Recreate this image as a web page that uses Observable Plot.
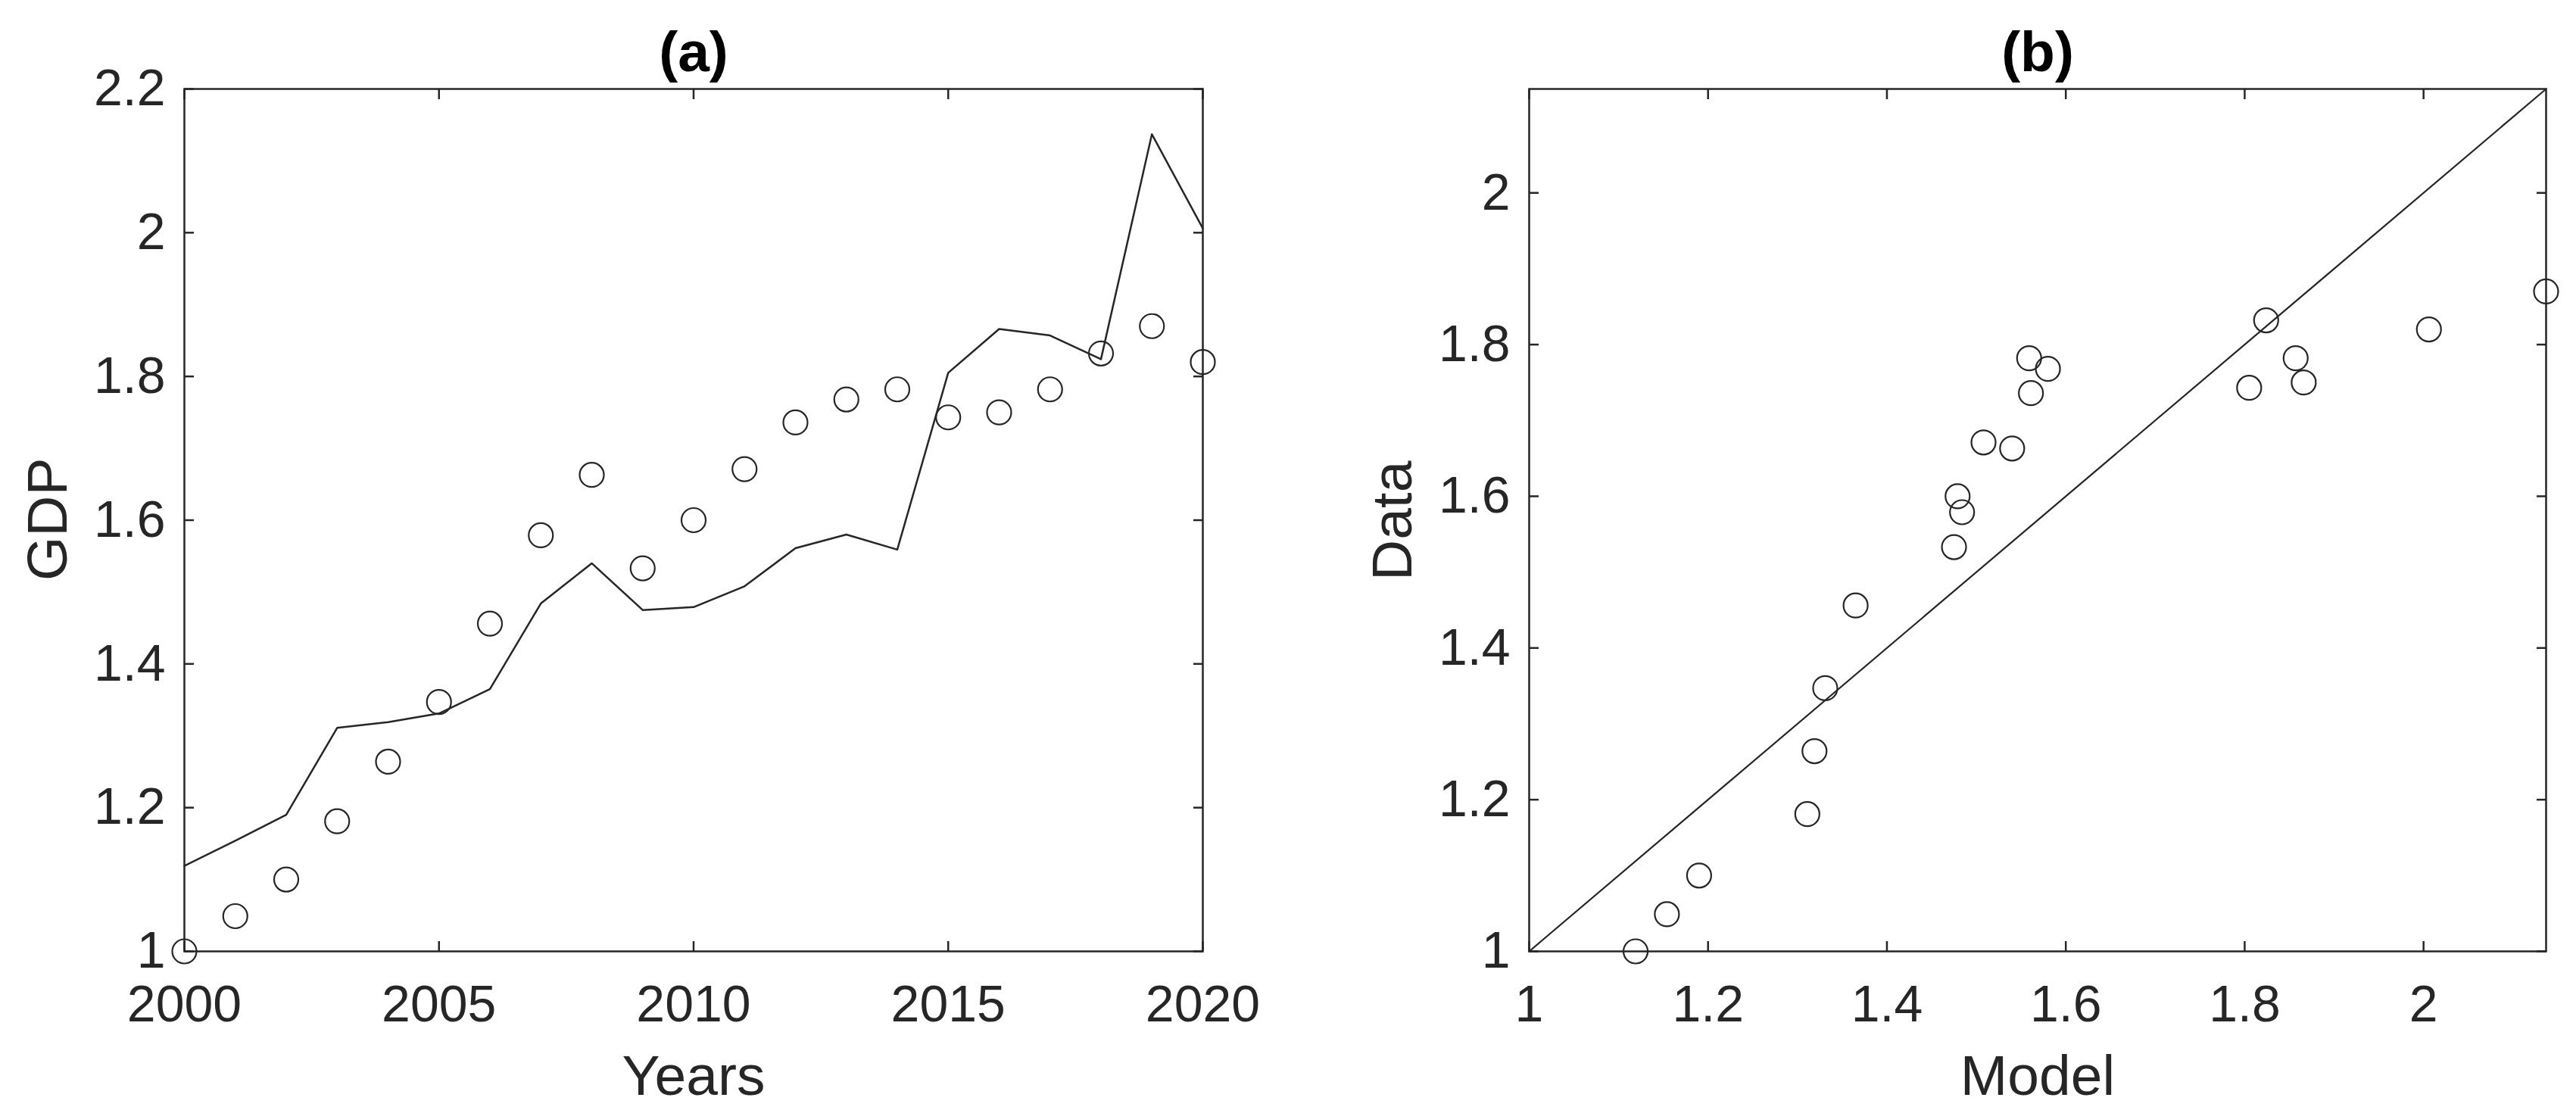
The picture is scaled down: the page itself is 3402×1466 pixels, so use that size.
<!DOCTYPE html>
<html>
<head>
<meta charset="utf-8">
<script src="https://cdn.jsdelivr.net/npm/d3@7"></script>
<script src="https://cdn.jsdelivr.net/npm/@observablehq/plot@0.6"></script>
<style>
  html, body { margin: 0; padding: 0; background: #fff; }
  #wrap { position: relative; width: 3402px; height: 1466px; background: #fff; overflow: hidden; }
  #pa, #pb { position: absolute; top: 0; }
  #pa { left: 0; }
  #pb { left: 1700px; }
</style>
</head>
<body>
<div id="wrap"><div id="pa"></div><div id="pb"></div></div>
<script>
// ---- data ----
const years = [2000, 2001, 2002, 2003, 2004, 2005, 2006, 2007, 2008, 2009, 2010,
               2011, 2012, 2013, 2014, 2015, 2016, 2017, 2018, 2019, 2020];
const gdpData = [1.000, 1.049, 1.100, 1.181, 1.264, 1.347, 1.456, 1.579, 1.663, 1.533, 1.600,
                 1.671, 1.736, 1.768, 1.782, 1.743, 1.750, 1.782, 1.832, 1.870, 1.820];
const gdpModel = [1.119, 1.154, 1.190, 1.311, 1.319, 1.331, 1.365, 1.484, 1.540, 1.475, 1.479,
                  1.508, 1.561, 1.580, 1.559, 1.805, 1.866, 1.857, 1.824, 2.137, 2.006];
const xTicksA = [2000, 2005, 2010, 2015, 2020];
const yTicksA = [1, 1.2, 1.4, 1.6, 1.8, 2, 2.2];
const ticksB = [1, 1.2, 1.4, 1.6, 1.8, 2];
const xDomainA = [2000, 2020];
const yDomainA = [1, 2.2];
const domainB = [1, 2.137];
const titles = ["(a)", "(b)"];
const labelsA = {x: "Years", y: "GDP"};
const labelsB = {x: "Model", y: "Data"};

const rows = years.map((yr, i) => ({year: yr, data: gdpData[i], model: gdpModel[i]}));
const diag = domainB.map(v => ({v}));

const INK = "#262626";
const FONT = "'Liberation Sans', Arial, Helvetica, sans-serif";
const TICK = 13, SW = 2.5;
const noLabel = () => "";

function frameAxes(xt, yt, xfmt, yfmt) {
  return [
    Plot.frame({stroke: INK, strokeWidth: SW}),
    Plot.axisX(xt, {anchor: "bottom", tickSize: -TICK, tickPadding: 57, tickFormat: xfmt, label: null, stroke: INK, strokeWidth: SW, fill: INK}),
    Plot.axisX(xt, {anchor: "top", tickSize: -TICK, tickFormat: noLabel, label: null, stroke: INK, strokeWidth: SW}),
    Plot.axisY(yt, {anchor: "left", tickSize: -TICK, tickPadding: 38, tickFormat: yfmt, label: null, stroke: INK, strokeWidth: SW, fill: INK}),
    Plot.axisY(yt, {anchor: "right", tickSize: -TICK, tickFormat: noLabel, label: null, stroke: INK, strokeWidth: SW})
  ];
}
function texts(title, lab) {
  return [
    Plot.text([title], {text: d => d, frameAnchor: "top", dy: -48, lineAnchor: "middle", fontSize: 75, fontWeight: "bold", fill: "#000"}),
    Plot.text([lab.x], {text: d => d, frameAnchor: "bottom", dy: 165, lineAnchor: "middle", fontSize: 75, fill: INK}),
    Plot.text([lab.y], {text: d => d, frameAnchor: "left", dx: -180, dy: 80, rotate: -90, lineAnchor: "middle", fontSize: 75, fill: INK})
  ];
}
const fmtNum = d => d3.format("~g")(d);

const plotA = Plot.plot({
  width: 1700, height: 1466,
  marginLeft: 243, marginRight: 112, marginTop: 117, marginBottom: 210,
  style: {fontFamily: FONT, fontSize: "68px", color: INK, background: "#fff"},
  x: {domain: xDomainA, axis: null},
  y: {domain: yDomainA, axis: null},
  marks: [
    ...frameAxes(xTicksA, yTicksA, d3.format("d"), fmtNum),
    Plot.line(rows, {x: "year", y: "model", stroke: INK, strokeWidth: 2.5}),
    Plot.dot(rows, {x: "year", y: "data", r: 16, stroke: INK, strokeWidth: 2.2, fill: "none"}),
    ...texts(titles[0], labelsA)
  ]
});
document.getElementById("pa").appendChild(plotA);

const plotB = Plot.plot({
  width: 1702, height: 1466,
  marginLeft: 319, marginRight: 40, marginTop: 117, marginBottom: 210,
  style: {fontFamily: FONT, fontSize: "68px", color: INK, background: "#fff"},
  x: {domain: domainB, axis: null},
  y: {domain: domainB, axis: null},
  marks: [
    ...frameAxes(ticksB, ticksB, fmtNum, fmtNum),
    Plot.line(diag, {x: "v", y: "v", stroke: INK, strokeWidth: 2.2}),
    Plot.dot(rows, {x: "model", y: "data", r: 16, stroke: INK, strokeWidth: 2.2, fill: "none"}),
    ...texts(titles[1], labelsB)
  ]
});
document.getElementById("pb").appendChild(plotB);
</script>
</body>
</html>
